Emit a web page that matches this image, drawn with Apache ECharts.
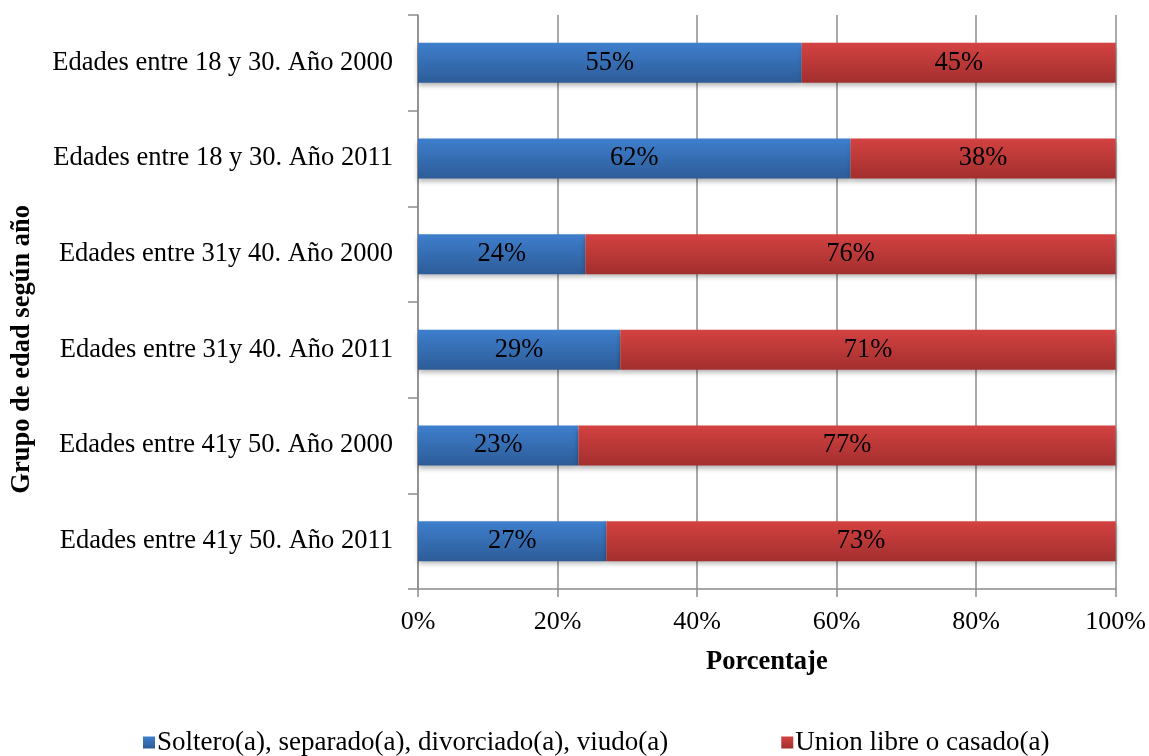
<!DOCTYPE html>
<html>
<head>
<meta charset="utf-8">
<script src="https://cdn.jsdelivr.net/npm/echarts@6/dist/echarts.min.js"></script>
<style>
  html, body { margin: 0; padding: 0; background: #fff; }
  #chart { width: 1149px; height: 756px; }
</style>
</head>
<body>
<div id="chart"></div>
<script>
// Age groups by census year, top to bottom
const categories = [
  'Edades entre 18 y 30. Año 2000',
  'Edades entre 18 y 30. Año 2011',
  'Edades entre 31y 40. Año 2000',
  'Edades entre 31y 40. Año 2011',
  'Edades entre 41y 50. Año 2000',
  'Edades entre 41y 50. Año 2011'
];
const seriesNames = ['Soltero(a), separado(a), divorciado(a), viudo(a)', 'Union libre o casado(a)'];
const solteroValues = [55, 62, 24, 29, 23, 27];
const casadoValues = [45, 38, 76, 71, 77, 73];
const xTicks = [0, 20, 40, 60, 80, 100];

const FONT = '"Liberation Serif", "Times New Roman", serif';

const chart = echarts.init(document.getElementById('chart'));

function grad(top, bottom) {
  return new echarts.graphic.LinearGradient(0, 0, 0, 1, [
    { offset: 0, color: top },
    { offset: 1, color: bottom }
  ]);
}

const barBase = {
  type: 'bar',
  stack: 'total',
  barWidth: 40,
  label: {
    show: true,
    position: 'inside',
    formatter: '{c}%',
    color: '#000',
    fontFamily: FONT,
    fontSize: 26.5
  }
};

chart.setOption({
  animation: false,
  grid: { left: 418, right: 32, top: 15, bottom: 167 },
  legend: {
    top: 724,
    left: 138,
    itemWidth: 12,
    itemHeight: 12,
    itemGap: 113,
    icon: 'rect',
    textStyle: { fontFamily: FONT, fontSize: 27, color: '#000', padding: [0, 0, 0, -3] },
    data: seriesNames
  },
  xAxis: {
    type: 'value',
    min: xTicks[0],
    max: xTicks[xTicks.length - 1],
    interval: 20,
    name: 'Porcentaje',
    nameLocation: 'middle',
    nameGap: 60,
    nameTextStyle: { fontFamily: FONT, fontSize: 26.5, fontWeight: 'bold', color: '#000' },
    axisLine: { show: true, lineStyle: { color: '#8c8c8c', width: 1.5 } },
    axisTick: { show: true, length: 8, lineStyle: { color: '#8c8c8c', width: 1.5 } },
    axisLabel: { formatter: '{value}%', fontFamily: FONT, fontSize: 26, color: '#000', margin: 20 },
    splitLine: { show: true, lineStyle: { color: '#8c8c8c', width: 1.5 } }
  },
  yAxis: {
    type: 'category',
    data: categories,
    inverse: true,
    axisLine: { show: true, lineStyle: { color: '#8c8c8c', width: 1.5 } },
    axisTick: { show: true, length: 10, lineStyle: { color: '#8c8c8c', width: 1.5 } },
    axisLabel: { fontFamily: FONT, fontSize: 26.5, color: '#000', margin: 25 }
  },
  graphic: [{
    type: 'text',
    left: 9,
    top: 205,
    rotation: Math.PI / 2,
    style: {
      text: 'Grupo de edad según año',
      font: 'bold 26.5px ' + FONT,
      fill: '#000'
    }
  }],
  series: [
    Object.assign({}, barBase, {
      name: seriesNames[0],
      data: solteroValues,
      itemStyle: {
        color: grad('#3e7fcd', '#2d5c98'),
        shadowColor: 'rgba(0,0,0,0.3)',
        shadowBlur: 5,
        shadowOffsetY: 3
      }
    }),
    Object.assign({}, barBase, {
      name: seriesNames[1],
      data: casadoValues,
      itemStyle: {
        color: grad('#d34241', '#a22f2e'),
        shadowColor: 'rgba(0,0,0,0.3)',
        shadowBlur: 5,
        shadowOffsetY: 3
      }
    })
  ]
});
</script>
</body>
</html>
